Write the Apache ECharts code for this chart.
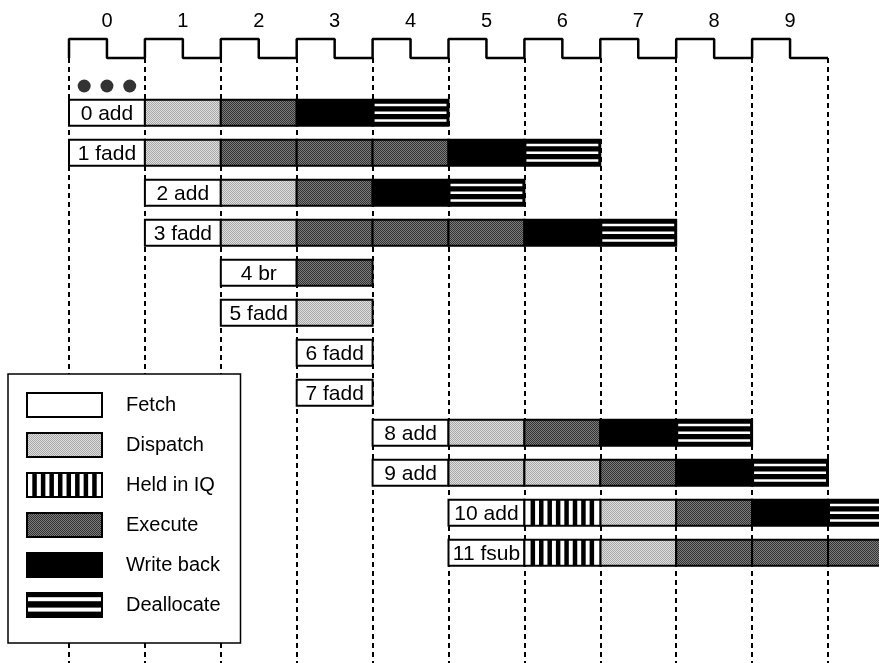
<!DOCTYPE html>
<html>
<head>
<meta charset="utf-8">
<script src="https://cdn.jsdelivr.net/npm/echarts@6/dist/echarts.min.js"></script>
<style>
  html, body { margin: 0; padding: 0; background: #fff; }
  #chart { width: 879px; height: 663px; }
</style>
</head>
<body>
<div id="chart"></div>
<script>
    // clock cycles across the top
    var cycleLabels = ['0', '1', '2', '3', '4', '5', '6', '7', '8', '9'];
    // pipeline stages (legend order)
    var stageNames = ['Fetch', 'Dispatch', 'Held in IQ', 'Execute', 'Write back', 'Deallocate'];
    // instructions, one per row
    var instrLabels = ['0 add', '1 fadd', '2 add', '3 fadd', '4 br', '5 fadd', '6 fadd', '7 fadd', '8 add', '9 add', '10 add', '11 fsub'];
    // cycle in which each instruction is fetched
    var fetchCycle = [0, 0, 1, 1, 2, 2, 3, 3, 4, 4, 5, 5];
    // stage index for each cycle, starting at the fetch cycle
    var rowStages = [
        [0, 1, 3, 4, 5],
        [0, 1, 3, 3, 3, 4, 5],
        [0, 1, 3, 4, 5],
        [0, 1, 3, 3, 3, 4, 5],
        [0, 3],
        [0, 1],
        [0],
        [0],
        [0, 1, 3, 4, 5],
        [0, 1, 1, 3, 4, 5],
        [0, 2, 1, 3, 4, 5],
        [0, 2, 1, 3, 3, 3]
    ];
    // "..." earlier instructions, drawn in cycle 0 above row 0
    var prevDotsX = [0.2, 0.5, 0.8];
    var prevDotsRow = -0.67;

    var FONT = '"Liberation Sans", Arial, Helvetica, sans-serif';
    var CELL_H = 0.65;   // cell height in row units
    var BAR_W = 4.5;     // width of the "held in IQ" bars

    // small dither textures for the grey stages
    function dither(c1, c2) {
        var cv = document.createElement('canvas');
        cv.width = 4; cv.height = 4;
        var ctx = cv.getContext('2d');
        for (var i = 0; i < 4; i++) {
            for (var j = 0; j < 4; j++) {
                ctx.fillStyle = (i + j) % 2 ? c1 : c2;
                ctx.fillRect(i, j, 1, 1);
            }
        }
        return cv;
    }
    var dispatchTex = dither('#dedede', '#a8a8a8');
    var executeTex = dither('#7c7c7c', '#333333');

    // legend swatches drawn on a canvas and used as image icons
    function swatch(s, w, h) {
        var cv = document.createElement('canvas');
        cv.width = w; cv.height = h;
        var ctx = cv.getContext('2d');
        if (s === 0 || s === 2) ctx.fillStyle = '#fff';
        else if (s === 1) ctx.fillStyle = ctx.createPattern(dispatchTex, 'repeat');
        else if (s === 3) ctx.fillStyle = ctx.createPattern(executeTex, 'repeat');
        else ctx.fillStyle = '#000';
        ctx.fillRect(0, 0, w, h);
        ctx.fillStyle = '#000';
        if (s === 2) {
            for (var i = 1; i < 9; i++) ctx.fillRect(i * w / 9 - BAR_W / 2, 0, BAR_W, h);
        }
        if (s === 5) {
            ctx.fillStyle = '#fff';
            ctx.fillRect(2, h * 0.2, w - 4, 4);
            ctx.fillRect(2, h * 0.6, w - 4, 4);
        }
        ctx.strokeStyle = '#000';
        ctx.lineWidth = 2;
        ctx.strokeRect(1, 1, w - 2, h - 2);
        return 'image://' + cv.toDataURL();
    }

    // cells grouped by stage
    var cellsByStage = stageNames.map(function() { return []; });
    rowStages.forEach(function(stages, r) {
        stages.forEach(function(s, k) {
            cellsByStage[s].push([fetchCycle[r] + k, r]);
        });
    });

    function cellRect(api) {
        var c = api.value(0), r = api.value(1);
        var p0 = api.coord([c, r]);
        var p1 = api.coord([c + 1, r]);
        var h = api.size([0, CELL_H])[1];
        return { x: p0[0], y: p0[1] - h / 2, width: p1[0] - p0[0], height: h };
    }

    function makeRender(s) {
        return function(params, api) {
            var b = cellRect(api);
            var kids = [];
            var fill = '#fff';
            if (s === 1) fill = { image: dispatchTex, repeat: 'repeat' };
            if (s === 3) fill = { image: executeTex, repeat: 'repeat' };
            if (s === 4 || s === 5) fill = '#000';
            kids.push({ type: 'rect', shape: b, style: { fill: fill } });
            if (s === 2) {
                for (var i = 1; i < 9; i++) {
                    kids.push({ type: 'rect', shape: { x: b.x + i * b.width / 9 - BAR_W / 2, y: b.y, width: BAR_W, height: b.height }, style: { fill: '#000' } });
                }
            }
            if (s === 5) {
                [0.2, 0.5, 0.8].forEach(function(f) {
                    kids.push({ type: 'rect', shape: { x: b.x + 2, y: b.y + b.height * f - 1.25, width: b.width - 4, height: 2.5 }, style: { fill: '#fff' } });
                });
            }
            kids.push({ type: 'rect', shape: b, style: { fill: null, stroke: '#000', lineWidth: 2 } });
            if (s === 0) {
                kids.push({
                    type: 'text',
                    style: {
                        text: instrLabels[api.value(1)],
                        x: b.x + b.width / 2, y: b.y + b.height / 2 + 1,
                        align: 'center', verticalAlign: 'middle',
                        fontSize: 21, fontFamily: FONT, fill: '#000'
                    }
                });
            }
            return { type: 'group', children: kids };
        };
    }

    // clock square wave: high for the first half of every cycle
    var clockData = [];
    cycleLabels.forEach(function(lab, k) {
        clockData.push([k, 0], [k, 1], [k + 0.5, 1], [k + 0.5, 0]);
    });
    clockData.push([cycleLabels.length, 0]);

    var myChart = echarts.init(document.getElementById('chart'));

    var series = stageNames.map(function(name, s) {
        return {
            type: 'custom',
            name: name,
            xAxisIndex: 0,
            yAxisIndex: 0,
            data: cellsByStage[s],
            renderItem: makeRender(s)
        };
    });
    series.push({
        type: 'line',
        xAxisIndex: 1,
        yAxisIndex: 1,
        data: clockData,
        symbol: 'none',
        clip: false,
        lineStyle: { color: '#000', width: 2.5 },
        silent: true
    });
    series.push({
        type: 'scatter',
        xAxisIndex: 0,
        yAxisIndex: 0,
        data: prevDotsX.map(function(x) { return [x, prevDotsRow]; }),
        symbolSize: 13,
        itemStyle: { color: '#000' },
        silent: true
    });

    var option = {
        animation: false,
        backgroundColor: '#fff',
        grid: [
            { left: 69, width: 834.9, top: 58, bottom: 0, outerBoundsMode: 'none' },
            { left: 69, width: 834.9, top: 39, height: 19, outerBoundsMode: 'none' }
        ],
        xAxis: [
            {
                gridIndex: 0, type: 'value', min: 0, max: 11, interval: 1,
                axisLine: { show: false }, axisTick: { show: false }, axisLabel: { show: false },
                splitLine: { show: true, lineStyle: { color: '#000', width: 2, type: [5, 4] } }
            },
            {
                gridIndex: 1, type: 'value', min: 0, max: 11, show: false
            },
            {
                gridIndex: 1, type: 'category', position: 'top', boundaryGap: true,
                data: cycleLabels.concat(['']),
                axisLine: { show: false }, axisTick: { show: false }, splitLine: { show: false },
                axisLabel: { fontSize: 20, fontFamily: FONT, color: '#000', margin: 8 }
            }
        ],
        yAxis: [
            {
                gridIndex: 0, type: 'value', inverse: true, min: -1.37, max: 13.755,
                show: false, splitLine: { show: false }
            },
            {
                gridIndex: 1, type: 'value', min: 0, max: 1, show: false, splitLine: { show: false }
            }
        ],
        legend: {
            orient: 'vertical',
            left: 8,
            top: 374,
            padding: [18, 20, 25, 18],
            itemWidth: 77,
            itemHeight: 26,
            itemGap: 14,
            backgroundColor: '#fff',
            borderColor: '#000',
            borderWidth: 1.5,
            selectedMode: false,
            textStyle: { fontSize: 20, fontFamily: FONT, color: '#000', padding: [0, 0, 0, 18] },
            data: stageNames.map(function(name, s) {
                return { name: name, icon: swatch(s, 77, 26) };
            })
        },
        series: series
    };

    myChart.setOption(option);
</script>
</body>
</html>
